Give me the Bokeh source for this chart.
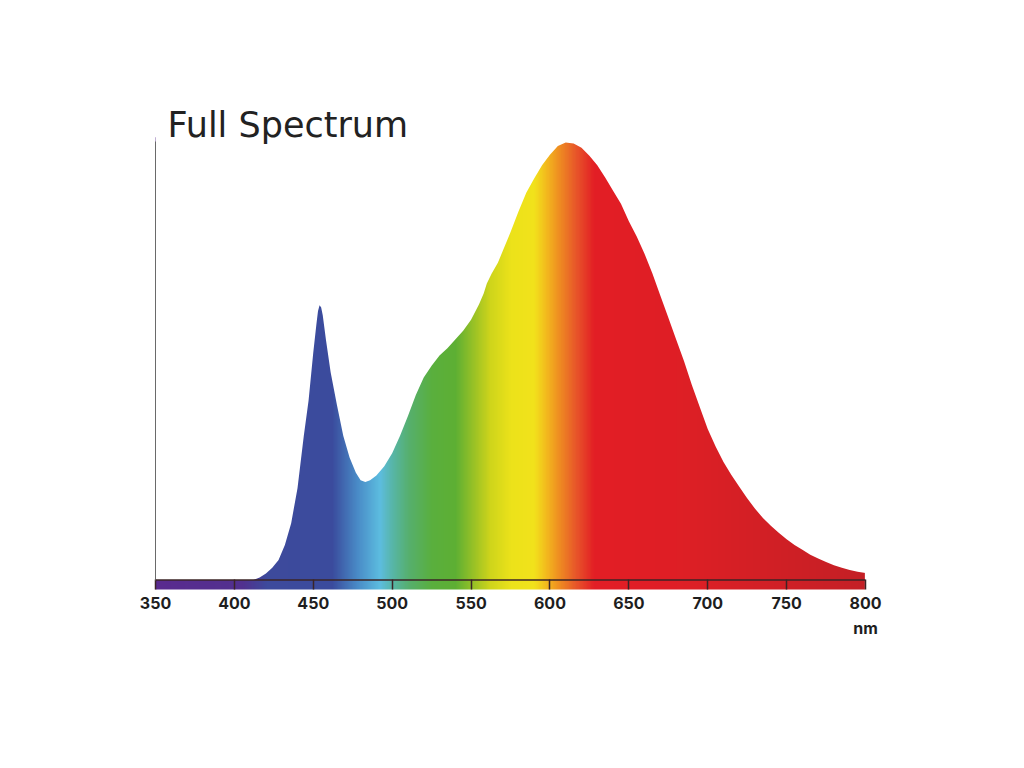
import numpy as np
from bokeh.plotting import figure
from bokeh.models import Range1d, Label, Span
from bokeh.embed import file_html
from bokeh.resources import INLINE

# ---- data (relative intensity) ----
wavelength = [350, 412, 416, 420, 424, 428, 432, 436, 440, 444, 447, 450, 452, 453,
              454, 455, 456, 458, 461, 465, 469, 473, 477, 480, 483, 486, 490, 495,
              500, 505, 510, 515, 520, 525, 530, 535, 540, 545, 550, 555, 558, 560,
              563, 567, 571, 575, 580, 585, 590, 595, 600, 605, 610, 615, 620, 625,
              630, 635, 640, 645, 650, 655, 660, 665, 670, 675, 680, 685, 690, 695,
              700, 705, 710, 715, 720, 725, 730, 735, 740, 745, 750, 755, 760, 765,
              770, 775, 780, 785, 790, 795, 800]
intensity = [0, 0, 0.6, 1.5, 2.8, 4.6, 8, 13, 21, 33, 41, 52, 58.5, 61.5,
             62.8, 62.3, 60.5, 55, 47.5, 40, 33, 28, 24.5, 22.8, 22.4, 22.8, 23.9, 26.0,
             29.0, 33.0, 37.5, 42.3, 46.3, 49, 51.3, 53, 55, 57, 59.5, 63, 65.5, 67.8,
             70, 72.5, 76, 79.5, 84.2, 88.5, 91.8, 94.8, 97.2, 99.2, 100, 99.8, 98.8, 97,
             94.8, 92, 89, 86, 82, 78.5, 74.5, 70, 65, 60, 55, 50, 44.5, 39.5,
             34.5, 30.5, 27, 24, 21.3, 18.7, 16.3, 14.2, 12.4, 10.8, 9.3, 8, 6.9, 5.8,
             4.9, 4.1, 3.4, 2.8, 2.3, 1.9, 1.6]

tick_values = [350, 400, 450, 500, 550, 600, 650, 700, 750, 800]
tick_labels = ["350", "400", "450", "500", "550", "600", "650", "700", "750", "800\nnm"]

# spectrum colour stops (nm -> colour)
grad_nm = [350, 405, 420, 462, 478, 492, 500, 510, 525, 540, 552, 562, 575, 590,
           598, 606, 616, 628, 680, 800]
grad_colors = ["#5a2b8f", "#52318f", "#3e4a9c", "#3b4c9e", "#4a8cc8", "#5dbde0",
               "#58b6a8", "#56b070", "#5aaf3e", "#5eb034", "#9cc326", "#cfd51c",
               "#ece21a", "#f2e21c", "#f3b81e", "#ef8c22", "#e8582a", "#e31e25",
               "#df1f26", "#c41f25"]

Y_BOTTOM = -2.17
Y_TOP = 109.6
Y_AXIS_TOP = 100.2

p = figure(width=1000, height=740, output_backend="svg", toolbar_location=None,
           x_range=Range1d(350, 800), y_range=Range1d(Y_BOTTOM, Y_TOP),
           min_border_left=155, min_border_right=135, min_border_top=100,
           min_border_bottom=151)
p.outline_line_color = None
p.grid.visible = False
p.background_fill_color = "white"
p.border_fill_color = "white"

# gradient image behind the spectrum
def hex_to_rgb(h):
    h = h.lstrip("#")
    return [int(h[i:i + 2], 16) for i in (0, 2, 4)]

stops_rgb = np.array([hex_to_rgb(c) for c in grad_colors], dtype=float)
img_x0, img_x1 = 346.0, 799.6
cols = np.linspace(img_x0, img_x1, 908)
n = len(cols)
img = np.empty((1, n), dtype=np.uint32)
view = img.view(dtype=np.uint8).reshape((1, n, 4))
for k in range(3):
    view[0, :, k] = np.interp(cols, grad_nm, stops_rgb[:, k]).astype(np.uint8)
view[0, :, 3] = 255
p.image_rgba(image=[img], x=img_x0, y=Y_BOTTOM - 1, dw=img_x1 - img_x0,
             dh=Y_AXIS_TOP + 1 - (Y_BOTTOM - 1))

# white mask above the spectrum curve
p.varea(x=wavelength, y1=intensity, y2=[Y_TOP] * len(wavelength),
        fill_color="white", fill_alpha=1.0)

# zero line
p.add_layout(Span(location=0, dimension="width", line_color="#3b2426",
                  line_width=1.5))

# x axis
xa = p.xaxis[0]
xa.ticker = tick_values
xa.major_label_overrides = dict(zip(tick_values, tick_labels))
xa.axis_line_color = None
xa.major_tick_in = 10
xa.major_tick_out = 0
xa.minor_tick_line_color = None
xa.major_tick_line_color = "#3b2426"
xa.major_tick_line_width = 1.5
xa.major_label_text_font = "Inter"
xa.major_label_text_font_style = "bold"
xa.major_label_text_font_size = "16px"
xa.major_label_text_color = "#1e1e1e"
xa.major_label_text_line_height = 1.25
xa.major_label_standoff = 3

# y axis (line only)
ya = p.yaxis[0]
ya.ticker = []
ya.bounds = (0, Y_AXIS_TOP)
ya.axis_line_color = "#6a6a6a"
ya.axis_line_width = 1
ya.major_tick_line_color = None
ya.minor_tick_line_color = None

p.add_layout(Label(x=357.6, y=104.1, text="Full Spectrum", text_font="DejaVu Sans",
                   text_font_size="35px", text_color="#222222",
                   text_baseline="alphabetic"))

open("out.html", "w").write(file_html(p, INLINE))
